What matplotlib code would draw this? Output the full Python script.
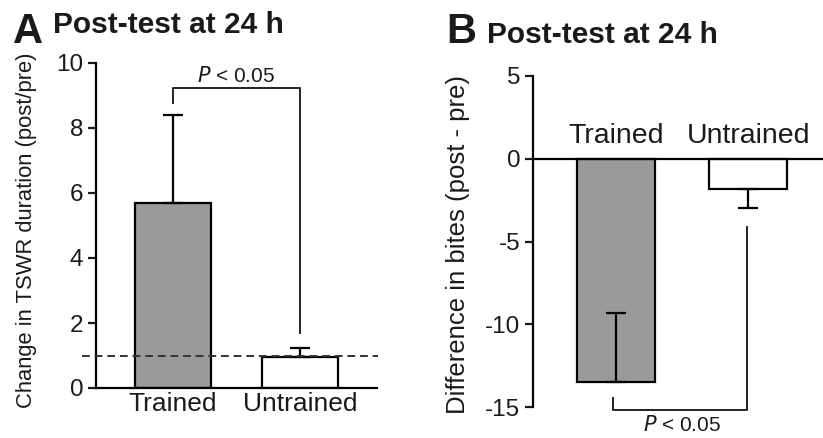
import matplotlib
matplotlib.use("Agg")
import matplotlib.pyplot as plt

plt.rcParams['font.family'] = ['Liberation Sans', 'DejaVu Sans']
plt.rcParams['axes.unicode_minus'] = False

groups = ["Trained", "Untrained"]

# panel A: change in TSWR duration (post/pre)
tswr_mean = [5.7, 0.95]
tswr_err = [2.7, 0.28]
tswr_ticks = [0, 2, 4, 6, 8, 10]

# panel B: difference in bites (post - pre)
bites_mean = [-13.5, -1.8]
bites_err_up = [4.2, 0.0]
bites_err_down = [0.0, 1.2]
bites_ticks = [-15, -10, -5, 0, 5]

bar_colors = ["#9a9a9a", "white"]
txt = "#1a1a1a"
lw = 1.6
W, H = 823, 438

fig = plt.figure(figsize=(W / 100, H / 100), dpi=100)

###############################
### Panel A
###############################
axA = fig.add_axes([96 / W, 1 - 388 / H, (377 - 96) / W, (388 - 63) / H])
x = [0, 1]
axA.bar(x, tswr_mean, width=0.6, color=bar_colors, edgecolor="black", linewidth=lw, zorder=2)
axA.errorbar(x, tswr_mean, yerr=[[0, 0], tswr_err], fmt="none", ecolor="black",
             elinewidth=lw, capsize=7, capthick=lw, zorder=3)
axA.plot([-0.717, 1.614], [1, 1], linestyle=(0, (4, 2.5)), color="#333333", linewidth=1.4,
         clip_on=False, zorder=4)
axA.set_xlim(-0.606, 1.606)
axA.set_ylim(0, 10)
axA.set_yticks(tswr_ticks)
axA.set_xticks(x)
axA.set_xticklabels(groups)
axA.tick_params(axis="x", length=0, labelsize=19, pad=3, colors=txt)
axA.tick_params(axis="y", length=6, width=lw, labelsize=17.5, pad=3, colors=txt)
for s in ["top", "right"]:
    axA.spines[s].set_visible(False)
for s in ["left", "bottom"]:
    axA.spines[s].set_linewidth(lw)
axA.set_ylabel("Change in TSWR duration (post/pre)", fontsize=15.8, color=txt)
axA.yaxis.set_label_coords(-0.21, 0.485)

# significance bracket
axA.plot([0, 0, 1, 1], [8.77, 9.23, 9.23, 1.7], color="#222222", linewidth=1.4, clip_on=False)
axA.text(0.5, 9.42, "$\\it{P}$ < 0.05", ha="center", va="baseline", fontsize=15, color=txt)

fig.text(13 / W, 1 - 43 / H, "A", fontsize=30, fontweight="bold", color=txt, va="baseline")
fig.text(53 / W, 1 - 33 / H, "Post-test at 24 h", fontsize=21.5, fontweight="bold", color=txt,
         va="baseline")

###############################
### Panel B
###############################
axB = fig.add_axes([533 / W, 1 - 407 / H, (W - 533) / W, (407 - 76) / H])
axB.bar(x, bites_mean, width=0.59, color=bar_colors, edgecolor="black", linewidth=lw, zorder=2)
axB.errorbar(x, bites_mean, yerr=[bites_err_down, bites_err_up], fmt="none", ecolor="black",
             elinewidth=lw, capsize=7, capthick=lw, zorder=3)
axB.axhline(0, color="black", linewidth=lw, zorder=4)
axB.set_xlim(-0.629, 1.568)
axB.set_ylim(-15, 5)
axB.set_yticks(bites_ticks)
axB.set_xticks([])
axB.tick_params(axis="y", length=6, width=lw, labelsize=17.5, pad=3, colors=txt)
for s in ["top", "right", "bottom"]:
    axB.spines[s].set_visible(False)
axB.spines["left"].set_linewidth(lw)
axB.set_ylabel("Difference in bites (post - pre)", fontsize=18.5, color=txt)
axB.yaxis.set_label_coords(-0.217, 0.49)
for xi, g in zip(x, groups):
    axB.text(xi, 0.95, g, ha="center", va="baseline", fontsize=20.5, color=txt)

# significance bracket below the bars
axB.plot([-0.02, -0.02, 0.99, 0.99], [-14.44, -15.17, -15.17, -4.1], color="#222222",
         linewidth=1.4, clip_on=False)
axB.text(0.5, -16.45, "$\\it{P}$ < 0.05", ha="center", va="baseline", fontsize=15, color=txt)

fig.text(446 / W, 1 - 43 / H, "B", fontsize=30, fontweight="bold", color=txt, va="baseline")
fig.text(487 / W, 1 - 43 / H, "Post-test at 24 h", fontsize=21.5, fontweight="bold", color=txt,
         va="baseline")

fig.savefig("out.png", dpi=100)
